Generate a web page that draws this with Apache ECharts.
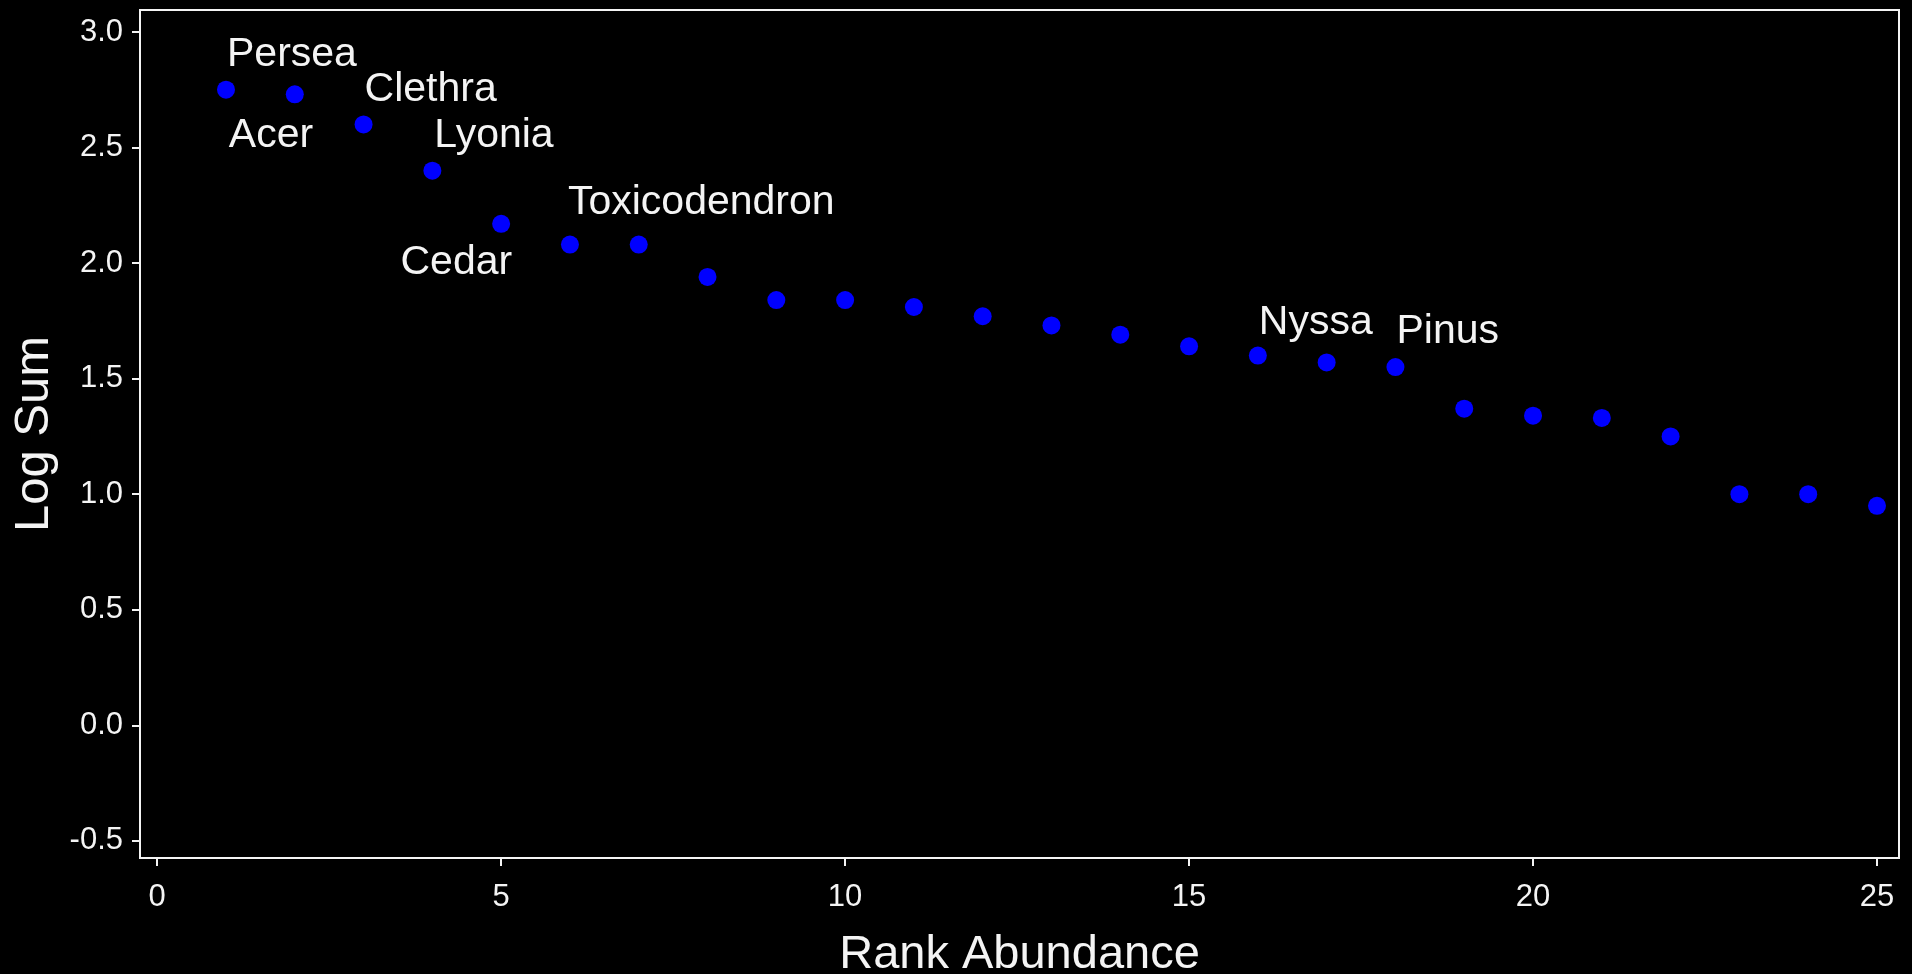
<!DOCTYPE html>
<html>
<head>
<meta charset="utf-8">
<title>Rank Abundance</title>
<script src="https://cdn.jsdelivr.net/npm/echarts@6/dist/echarts.min.js"></script>
<style>
  html, body { margin: 0; padding: 0; background: #000; }
  #chart { width: 1912px; height: 974px; }
</style>
</head>
<body>
<div id="chart"></div>
<script>
// Rank of each taxon (1 = most abundant)
const ranks = [1, 2, 3, 4, 5, 6, 7, 8, 9, 10, 11, 12, 13, 14, 15, 16, 17, 18, 19, 20, 21, 22, 23, 24, 25];
// log10 of summed abundance per rank
const logSums = [2.75, 2.73, 2.60, 2.40, 2.17, 2.08, 2.08, 1.94, 1.84, 1.84, 1.81, 1.77, 1.73, 1.69, 1.64,
                 1.60, 1.57, 1.55, 1.37, 1.34, 1.33, 1.25, 1.00, 1.00, 0.95];
// Taxon names shown beside selected points ('' = unlabeled)
const taxonNames = ['Persea', 'Acer', 'Clethra', 'Lyonia', 'Cedar', 'Toxicodendron', '', '', '', '',
                    '', '', '', '', '', 'Nyssa', '', 'Pinus', '', '', '', '', '', '', ''];
// Axis tick values
const xTicks = [0, 5, 10, 15, 20, 25];
const yTicks = [-0.5, 0.0, 0.5, 1.0, 1.5, 2.0, 2.5, 3.0];

// Where each name sits relative to its point
const namePlacement = {
  Persea:        { align: 'left',  dx: 1,   dy: -35 },
  Acer:          { align: 'left',  dx: -66, dy: 41 },
  Clethra:       { align: 'left',  dx: 1,   dy: -35 },
  Lyonia:        { align: 'left',  dx: 2,   dy: -35 },
  Cedar:         { align: 'right', dx: 11,  dy: 39 },
  Toxicodendron: { align: 'left',  dx: -2,  dy: -42 },
  Nyssa:         { align: 'left',  dx: 1,   dy: -33 },
  Pinus:         { align: 'left',  dx: 1,   dy: -35 }
};

const fg = '#f4f4f4';
const font = '"Liberation Sans", Arial, sans-serif';

const points = ranks.map((r, i) => {
  const name = taxonNames[i];
  const item = { value: [r, logSums[i]] };
  if (name) {
    const p = namePlacement[name];
    item.label = {
      show: true,
      formatter: name,
      position: 'inside',
      align: p.align,
      verticalAlign: 'middle',
      offset: [p.dx, p.dy],
      color: fg,
      fontSize: 41,
      fontFamily: font
    };
  }
  return item;
});

const chart = echarts.init(document.getElementById('chart'), null, { renderer: 'canvas' });
chart.setOption({
  backgroundColor: '#000000',
  animation: false,
  grid: {
    left: 140, right: 13, top: 10, bottom: 116,
    outerBoundsMode: 'none',
    containLabel: false,
    show: true, borderColor: fg, borderWidth: 2, backgroundColor: 'transparent'
  },
  xAxis: {
    type: 'value',
    min: -0.25, max: 25.32,
    name: 'Rank Abundance',
    nameLocation: 'middle',
    nameGap: 74,
    nameTextStyle: { color: fg, fontSize: 47, fontFamily: font },
    splitLine: { show: false },
    axisLine: { show: false, onZero: false },
    axisTick: { show: true, customValues: xTicks, length: 8, lineStyle: { color: fg, width: 2 } },
    axisLabel: { customValues: xTicks, color: fg, fontSize: 31, fontFamily: font, margin: 24 }
  },
  yAxis: {
    type: 'value',
    min: -0.574, max: 3.095,
    name: 'Log Sum',
    nameLocation: 'middle',
    nameGap: 81,
    nameTextStyle: { color: fg, fontSize: 49, fontFamily: font },
    splitLine: { show: false },
    axisLine: { show: false, onZero: false },
    axisTick: { show: true, customValues: yTicks, length: 8, lineStyle: { color: fg, width: 2 } },
    axisLabel: {
      customValues: yTicks, color: fg, fontSize: 31, fontFamily: font, margin: 17,
      formatter: v => v.toFixed(1)
    }
  },
  series: [{
    type: 'scatter',
    data: points,
    symbol: 'circle',
    symbolSize: 18,
    itemStyle: { color: '#0000ff', opacity: 1 },
    emphasis: { disabled: true }
  }]
});
</script>
</body>
</html>
